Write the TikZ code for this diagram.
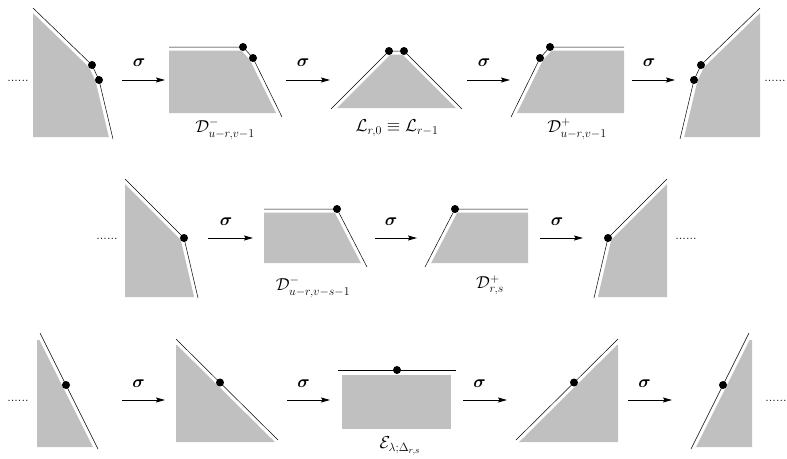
\documentclass[tikz,border=0pt]{standalone}
\usepackage{amsmath,amssymb,bm}
\usetikzlibrary{arrows.meta}
\definecolor{shade}{RGB}{192,192,192}
\tikzset{
  region/.style={fill=shade, draw=none},
  gapline/.style={draw=white, line width=7pt, line cap=rect, line join=round},
  edgeline/.style={draw=black, line width=0.5pt, line join=miter},
  blob/.style={circle, fill=black, inner sep=0pt, minimum size=8pt},
  sarrow/.style={draw=black, line width=0.9pt, -{Stealth[length=9pt,width=5pt,inset=1.5pt]}},
  siglabel/.style={font=\fontsize{16}{18}\selectfont, inner sep=0pt},
  figlabel/.style={font=\fontsize{17.5}{20}\selectfont, inner sep=0pt},
  dotsnode/.style={font=\fontsize{13}{15}\selectfont, inner sep=0pt, anchor=base},
}
\begin{document}
\begin{tikzpicture}[x=1pt,y=-1pt]
\useasboundingbox (0,0) rectangle (787,458);

% ---------------- Row 1 ----------------
\node[dotsnode] (d1l) at (18,81) {......};
\node[dotsnode] (d1r) at (775,81) {......};

% A1
\fill[region] (33,8) -- (92,65) -- (99,80) -- (112.5,137) -- (33,137) -- cycle;
\draw[gapline] (33,8) -- (92,65) -- (99,80) -- (113,139);
\draw[edgeline] (33,8) -- (92,65) -- (99,80) -- (113,139);
\node[blob] (a1p) at (92,65) {};
\node[blob] (a1q) at (99,80) {};

% A2
\fill[region] (169,47) -- (243,47) -- (253,58) -- (280,113) -- (169,113) -- cycle;
\draw[gapline] (169,47) -- (243,47) -- (253,58) -- (282,117);
\draw[edgeline] (169,47) -- (243,47) -- (253,58) -- (282,117);
\node[blob] (a2p) at (243,47) {};
\node[blob] (a2q) at (253,58) {};
\node[figlabel] (a2l) at (225,129) {$\mathcal{D}^{-}_{u-r,v-1}$};

% A3
\fill[region] (332,108) -- (389,51) -- (404,51) -- (461,108) -- cycle;
\draw[gapline] (331,109) -- (389,51) -- (404,51) -- (462,109);
\draw[edgeline] (331,109) -- (389,51) -- (404,51) -- (462,109);
\node[blob] (a3p) at (389,51) {};
\node[blob] (a3q) at (404,51) {};
\node[figlabel] (a3l) at (397,128) {$\mathcal{L}_{r,0}\equiv\mathcal{L}_{r-1}$};

% A4
\fill[region] (624,47) -- (550,47) -- (540,58) -- (513,113) -- (624,113) -- cycle;
\draw[gapline] (624,47) -- (550,47) -- (540,58) -- (511,117);
\draw[edgeline] (624,47) -- (550,47) -- (540,58) -- (511,117);
\node[blob] (a4p) at (550,47) {};
\node[blob] (a4q) at (540,58) {};
\node[figlabel] (a4l) at (577,129) {$\mathcal{D}^{+}_{u-r,v-1}$};

% A5
\fill[region] (760,8) -- (701,65) -- (694,80) -- (680.5,137) -- (760,137) -- cycle;
\draw[gapline] (760,8) -- (701,65) -- (694,80) -- (680,139);
\draw[edgeline] (760,8) -- (701,65) -- (694,80) -- (680,139);
\node[blob] (a5p) at (701,65) {};
\node[blob] (a5q) at (694,80) {};

% arrows row 1
\coordinate (r1s1) at (122,80); \coordinate (r1e1) at (165,80);
\coordinate (r1s2) at (286,80); \coordinate (r1e2) at (330,80);
\coordinate (r1s3) at (467,80); \coordinate (r1e3) at (510,80);
\coordinate (r1s4) at (632,80); \coordinate (r1e4) at (675,80);
\draw[sarrow] (r1s1) -- (r1e1);
\draw[sarrow] (r1s2) -- (r1e2);
\draw[sarrow] (r1s3) -- (r1e3);
\draw[sarrow] (r1s4) -- (r1e4);
\node[siglabel] (r1g1) at (139,63) {$\boldsymbol{\sigma}$};
\node[siglabel] (r1g2) at (303,63) {$\boldsymbol{\sigma}$};
\node[siglabel] (r1g3) at (484,63) {$\boldsymbol{\sigma}$};
\node[siglabel] (r1g4) at (649,63) {$\boldsymbol{\sigma}$};

% ---------------- Row 2 ----------------
\node[dotsnode] (d2l) at (107,239) {......};
\node[dotsnode] (d2r) at (686,239) {......};

% B1
\fill[region] (125,179) -- (184,238) -- (197.8,297) -- (125,297) -- cycle;
\draw[gapline] (125,179) -- (184,238) -- (198,298);
\draw[edgeline] (125,179) -- (184,238) -- (198,298);
\node[blob] (b1p) at (184,238) {};

% B2
\fill[region] (264,209) -- (337,209) -- (365,263) -- (264,263) -- cycle;
\draw[gapline] (264,209) -- (337,209) -- (367,267);
\draw[edgeline] (264,209) -- (337,209) -- (367,267);
\node[blob] (b2p) at (337,209) {};
\node[figlabel] (b2l) at (313,287) {$\mathcal{D}^{-}_{u-r,v-s-1}$};

% B3
\fill[region] (528,209) -- (455,209) -- (427,263) -- (528,263) -- cycle;
\draw[gapline] (528,209) -- (455,209) -- (425,267);
\draw[edgeline] (528,209) -- (455,209) -- (425,267);
\node[blob] (b3p) at (455,209) {};
\node[figlabel] (b3l) at (490,285) {$\mathcal{D}^{+}_{r,s}$};

% B4
\fill[region] (667,179) -- (608,238) -- (594.2,297) -- (667,297) -- cycle;
\draw[gapline] (667,179) -- (608,238) -- (594,298);
\draw[edgeline] (667,179) -- (608,238) -- (594,298);
\node[blob] (b4p) at (608,238) {};

% arrows row 2
\coordinate (r2s1) at (208,238); \coordinate (r2e1) at (253,238);
\coordinate (r2s2) at (375,238); \coordinate (r2e2) at (417,238);
\coordinate (r2s3) at (540,238); \coordinate (r2e3) at (583,238);
\draw[sarrow] (r2s1) -- (r2e1);
\draw[sarrow] (r2s2) -- (r2e2);
\draw[sarrow] (r2s3) -- (r2e3);
\node[siglabel] (r2g1) at (226,222) {$\boldsymbol{\sigma}$};
\node[siglabel] (r2g2) at (391,222) {$\boldsymbol{\sigma}$};
\node[siglabel] (r2g3) at (557,222) {$\boldsymbol{\sigma}$};

% ---------------- Row 3 ----------------
\node[dotsnode] (d3l) at (18,401) {......};
\node[dotsnode] (d3r) at (776,401) {......};

% C1
\fill[region] (37,340) -- (43.5,340) -- (97,447) -- (37,447) -- cycle;
\draw[gapline] (40,333) -- (98,449);
\draw[edgeline] (40,333) -- (98,449);
\node[blob] (c1p) at (66,385) {};

% C2
\fill[region] (176,345) -- (182,345) -- (280,442) -- (176,442) -- cycle;
\draw[gapline] (176,339) -- (278,440);
\draw[edgeline] (176,339) -- (278,440);
\node[blob] (c2p) at (220,382.5) {};

% C3
\fill[region] (342,375) rectangle (451,429);
\draw[black, line width=0.9pt] (338,370) -- (456,370);
\node[blob] (c3p) at (397,370) {};
\node[figlabel] (c3l) at (400,446) {$\mathcal{E}_{\lambda;\Delta_{r,s}}$};

% C4
\fill[region] (618,345) -- (612,345) -- (514,442) -- (618,442) -- cycle;
\draw[gapline] (618,339) -- (516,440);
\draw[edgeline] (618,339) -- (516,440);
\node[blob] (c4p) at (574,382.5) {};

% C5
\fill[region] (752,340) -- (745.5,340) -- (692,447) -- (752,447) -- cycle;
\draw[gapline] (749,333) -- (691,449);
\draw[edgeline] (749,333) -- (691,449);
\node[blob] (c5p) at (723,385) {};

% arrows row 3
\coordinate (r3s1) at (122,400); \coordinate (r3e1) at (165,400);
\coordinate (r3s2) at (287,400); \coordinate (r3e2) at (330,400);
\coordinate (r3s3) at (463,400); \coordinate (r3e3) at (507,400);
\coordinate (r3s4) at (628,400); \coordinate (r3e4) at (672,400);
\draw[sarrow] (r3s1) -- (r3e1);
\draw[sarrow] (r3s2) -- (r3e2);
\draw[sarrow] (r3s3) -- (r3e3);
\draw[sarrow] (r3s4) -- (r3e4);
\node[siglabel] (r3g1) at (138.5,384) {$\boldsymbol{\sigma}$};
\node[siglabel] (r3g2) at (303.5,384) {$\boldsymbol{\sigma}$};
\node[siglabel] (r3g3) at (479.5,384) {$\boldsymbol{\sigma}$};
\node[siglabel] (r3g4) at (644.5,384) {$\boldsymbol{\sigma}$};
\end{tikzpicture}
\end{document}
